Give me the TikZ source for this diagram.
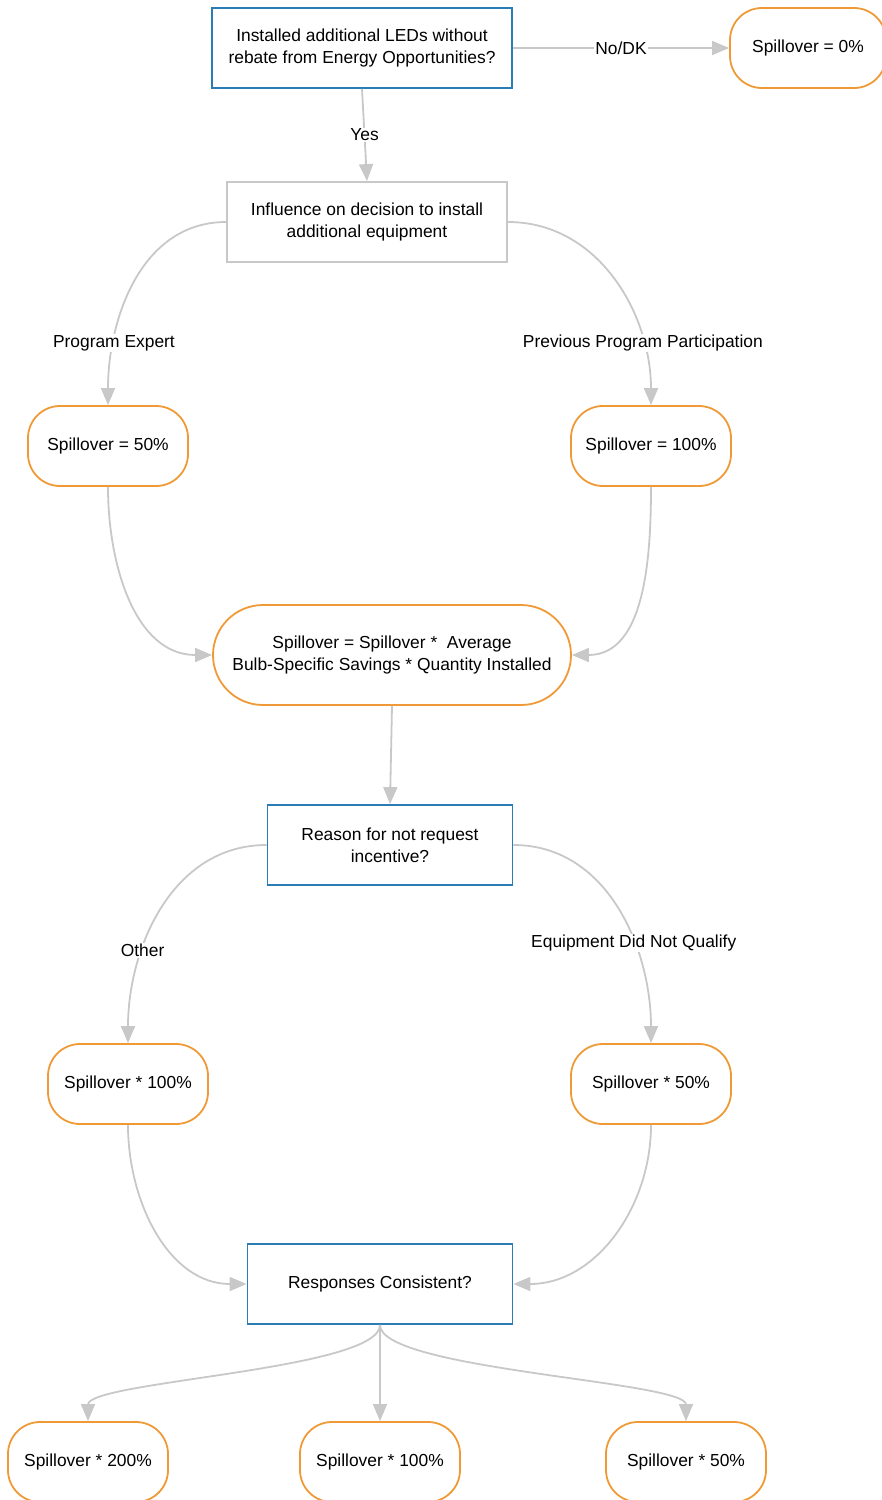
\documentclass[tikz,border=0pt]{standalone}
\usepackage{fontspec}
\setmainfont{Liberation Sans}
\usetikzlibrary{arrows.meta}

\definecolor{boxblue}{RGB}{41,125,180}
\definecolor{outorange}{RGB}{240,154,55}
\definecolor{linegray}{RGB}{200,200,200}

\begin{document}
\begin{tikzpicture}[x=1pt,y=-1pt,
  font=\fontsize{17.4}{22}\selectfont,
  question/.style={draw=boxblue,line width=1.8pt,minimum height=80pt,align=center,inner sep=0pt},
  plainbox/.style={draw=linegray,line width=1.8pt,minimum height=80pt,align=center,inner sep=0pt},
  outcome/.style={draw=outorange,line width=1.8pt,rounded corners=32pt,minimum width=160pt,minimum height=80pt,align=center,inner sep=0pt},
  link/.style={draw=linegray,line width=1.8pt,-{Triangle[length=17pt,width=14pt]}},
  tag/.style={fill=white,inner sep=1pt}]

  \useasboundingbox (0,0) rectangle (882,1500);

  % Primeira pergunta
  \node[question,minimum width=300pt] (q1) at (362,48) {Installed additional LEDs without\\rebate from Energy Opportunities?};
  \node[outcome,minimum width=156pt] (s0) at (808,48) {Spillover = 0\%};
  \node[plainbox,minimum width=280pt] (infl) at (367,222) {Influence on decision to install\\additional equipment};

  \draw[link] (q1) -- node[tag] {No/DK} (s0);
  \draw[link] (q1.south) -- node[tag] {Yes} (infl.north);

  % Influencia
  \node[outcome] (s50) at (108,446) {Spillover = 50\%};
  \node[outcome] (s100) at (651,446) {Spillover = 100\%};
  \node[outcome,minimum width=358pt,minimum height=100pt,rounded corners=50pt] (calc) at (392,655)
    {Spillover = Spillover *\ \ Average\\Bulb-Specific Savings * Quantity Installed};

  \draw[link] (infl.west) to[out=180,in=90] node[tag,pos=0.76] {Program Expert} (s50.north);
  \draw[link] (infl.east) to[out=0,in=90] node[tag,pos=0.77] {Previous Program Participation} (s100.north);
  \draw[link] (s50.south) to[out=-90,in=180] (calc.west);
  \draw[link] (s100.south) to[out=-90,in=0] (calc.east);

  % Motivo
  \node[question,minimum width=245pt] (why) at (390,845) {Reason for not request\\incentive?};
  \node[outcome] (o100) at (128,1084) {Spillover * 100\%};
  \node[outcome] (o50) at (651,1084) {Spillover * 50\%};
  \node[question,minimum width=265pt] (resp) at (380,1284) {Responses Consistent?};

  \draw[link] (calc.south) -- (why.north);
  \draw[link] (why.west) to[out=180,in=90] node[tag,pos=0.67] {Other} (o100.north);
  \draw[link] (why.east) to[out=0,in=90] node[tag,pos=0.64] {Equipment Did Not Qualify} (o50.north);
  \draw[link] (o100.south) to[out=-90,in=180] (resp.west);
  \draw[link] (o50.south) to[out=-90,in=0] (resp.east);

  % Resultados finais
  \foreach \name/\x/\val in {fa/88/200, fb/380/100, fc/686/50} {
    \node[outcome] (\name) at (\x,1462) {Spillover * \val\%};
    \draw[link] (resp.south) .. controls +(0,45) and +(0,-40) .. (\name.north);
  }
\end{tikzpicture}
\end{document}
